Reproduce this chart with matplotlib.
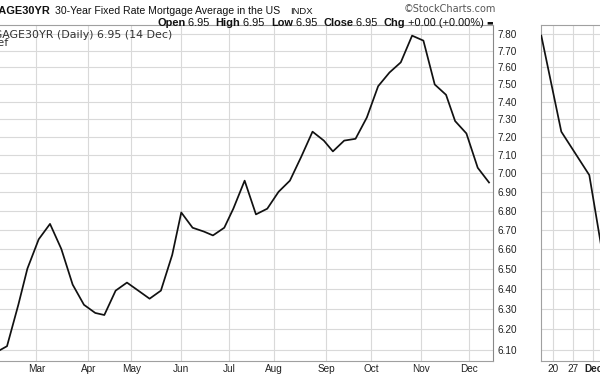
import numpy as np
import matplotlib
matplotlib.use("Agg")
import matplotlib.pyplot as plt
from matplotlib.ticker import FixedLocator, FixedFormatter, NullLocator

# ---------------- data ----------------
dates = ['2023-01-05', '2023-01-12', '2023-01-19', '2023-01-26', '2023-02-02', '2023-02-09',
         '2023-02-16', '2023-02-23', '2023-03-02', '2023-03-09', '2023-03-16', '2023-03-23',
         '2023-03-30', '2023-04-06', '2023-04-13', '2023-04-20', '2023-04-27', '2023-05-04',
         '2023-05-11', '2023-05-18', '2023-05-25', '2023-06-01', '2023-06-08', '2023-06-15',
         '2023-06-22', '2023-06-29', '2023-07-06', '2023-07-13', '2023-07-20', '2023-07-27',
         '2023-08-03', '2023-08-10', '2023-08-17', '2023-08-24', '2023-08-31', '2023-09-07',
         '2023-09-14', '2023-09-21', '2023-09-28', '2023-10-05', '2023-10-12', '2023-10-19',
         '2023-10-26', '2023-11-02', '2023-11-09', '2023-11-16', '2023-11-22', '2023-11-30',
         '2023-12-07', '2023-12-14']
rates = [6.48, 6.33, 6.15, 6.13, 6.09, 6.12,
         6.32, 6.50, 6.65, 6.73, 6.60, 6.42,
         6.32, 6.28, 6.27, 6.39, 6.43, 6.39,
         6.35, 6.39, 6.57, 6.79, 6.71, 6.69,
         6.67, 6.71, 6.81, 6.96, 6.78, 6.81,
         6.90, 6.96, 7.09, 7.23, 7.18, 7.12,
         7.18, 7.19, 7.31, 7.49, 7.57, 7.63,
         7.79, 7.76, 7.50, 7.44, 7.29, 7.22,
         7.03, 6.95]
holidays = ['2023-01-02', '2023-01-16', '2023-02-20', '2023-04-07', '2023-05-29',
            '2023-06-19', '2023-07-04', '2023-09-04', '2023-11-23', '2023-12-25']
month_starts = ['2023-03-01', '2023-04-03', '2023-05-01', '2023-06-01', '2023-07-03',
                '2023-08-01', '2023-09-01', '2023-10-02', '2023-11-01', '2023-12-01']
month_labels = ['Mar', 'Apr', 'May', 'Jun', 'Jul', 'Aug', 'Sep', 'Oct', 'Nov', 'Dec']
ytick_values = [6.10, 6.20, 6.30, 6.40, 6.50, 6.60, 6.70, 6.80, 6.90, 7.00,
                7.10, 7.20, 7.30, 7.40, 7.50, 7.60, 7.70, 7.80]

# right (zoomed) panel
rp_dates = ['2023-11-15', '2023-11-22', '2023-12-01', '2023-12-07']
rp_values = [7.79, 7.23, 6.99, 6.49]
rp_ticks = ['2023-11-20', '2023-11-27', '2023-12-04']
rp_labels = ['20', '27', 'Dec']

# ---------------- layout helpers ----------------
W, H = 600, 376
fig = plt.figure(figsize=(6.0, 3.76), dpi=100)
fig.patch.set_facecolor('white')

def fx(px):
    return px / W

def fy(py):
    return 1 - py / H

TOP, BOT = 24.5, 360.7
REF = '2023-03-02'

def tidx(ds, ref=REF, hol=holidays):
    return np.array([np.busday_count(ref, d, holidays=hol) for d in ds], dtype=float)

X0, S = 38.7, 2.263
L_PX, R_PX = -30, 493.3

def val_at(py):
    return 7.8 * np.exp(-(py - 34.0) / 1287.0)

ylo, yhi = val_at(BOT), val_at(TOP)

GRID = '#d9d9d9'
FRAME = '#a0a0a0'
FONT = ['Liberation Sans', 'DejaVu Sans']

# ---------------- main panel ----------------
ax = fig.add_axes([fx(L_PX), fy(BOT), fx(R_PX - L_PX), (BOT - TOP) / H])
x = tidx(dates)
ax.plot(x, rates, color='#111111', lw=1.25, solid_joinstyle='round', zorder=3)
ax.set_yscale('log')
ax.set_ylim(ylo, yhi)
ax.set_xlim((L_PX - X0) / S, (R_PX - X0) / S)

ax.yaxis.set_major_locator(FixedLocator(ytick_values))
ax.yaxis.set_major_formatter(FixedFormatter(['%.2f' % v for v in ytick_values]))
ax.yaxis.set_minor_locator(NullLocator())
ax.yaxis.tick_right()
ax.tick_params(axis='y', which='major', length=0, pad=3, labelsize=7.2,
               labelcolor='#222222')
mx = tidx(month_starts)
ax.xaxis.set_major_locator(FixedLocator(mx))
ax.xaxis.set_major_formatter(FixedFormatter(month_labels))
ax.tick_params(axis='x', length=0, pad=2.5, labelsize=7.2, labelcolor='#222222')
for lab in ax.get_xticklabels() + ax.get_yticklabels():
    lab.set_family(FONT)
ax.grid(True, color=GRID, lw=0.8)
ax.set_axisbelow(True)
for side in ['left', 'top', 'bottom']:
    ax.spines[side].set_color(FRAME)
    ax.spines[side].set_linewidth(0.8)
ax.spines['right'].set_color('#888888')
ax.spines['right'].set_linestyle((0, (1, 1)))
ax.spines['right'].set_linewidth(0.8)

fig.text(fx(172), fy(35), '$MORTGAGE30YR (Daily) 6.95 (14 Dec)', ha='right', va='center',
         fontsize=7.9, family=['DejaVu Sans'], color='#333333')
fig.text(fx(8.5), fy(43.5), 'Volume undef', ha='right', va='center',
         fontsize=7.9, family=['DejaVu Sans'], color='#333333')

# ---------------- right panel ----------------
RP_L, RP_R = 541, 660
RX0, RS = 553.3, 4.0
ax2 = fig.add_axes([fx(RP_L), fy(BOT), fx(RP_R - RP_L), (BOT - TOP) / H])
rx = tidx(rp_dates, ref='2023-11-20', hol=[])
ax2.plot(rx, rp_values, color='#111111', lw=1.25, solid_joinstyle='round', zorder=3)
ax2.set_yscale('log')
ax2.set_ylim(ylo, yhi)
ax2.set_xlim((RP_L - RX0) / RS, (RP_R - RX0) / RS)
ax2.yaxis.set_major_locator(FixedLocator(ytick_values))
ax2.yaxis.set_minor_locator(NullLocator())
ax2.set_yticklabels([])
ax2.tick_params(axis='y', length=0)
rtx = tidx(rp_ticks, ref='2023-11-20', hol=[])
ax2.xaxis.set_major_locator(FixedLocator(rtx))
ax2.xaxis.set_major_formatter(FixedFormatter(rp_labels))
ax2.tick_params(axis='x', length=0, pad=2.5, labelsize=7.2, labelcolor='#222222')
for i, lab in enumerate(ax2.get_xticklabels()):
    lab.set_family(FONT)
    if rp_labels[i] == 'Dec':
        lab.set_fontweight('bold')
ax2.grid(True, color=GRID, lw=0.8)
ax2.set_axisbelow(True)
for side in ax2.spines:
    ax2.spines[side].set_color(FRAME)
    ax2.spines[side].set_linewidth(0.8)

# ---------------- header texts ----------------
fig.text(fx(51), fy(11), '$MORTGAGE30YR', ha='right', va='center', fontsize=7.9,
         fontweight='bold', family=FONT, color='#111111')
fig.text(fx(55), fy(11), '30-Year Fixed Rate Mortgage Average in the US', ha='left',
         va='center', fontsize=7.6, family=FONT, color='#111111')
fig.text(fx(290), fy(11), 'INDX', ha='left', va='center', fontsize=6.8,
         family=FONT, color='#111111')
fig.text(fx(404), fy(9), '\u00a9StockCharts.com', ha='left', va='center', fontsize=7.0,
         family=['DejaVu Sans'], color='#555555')

fig.canvas.draw()
renderer = fig.canvas.get_renderer()
pieces = [('Open', 'bold', 7.9), (' 6.95  ', 'normal', 7.9), ('High', 'bold', 7.9),
          (' 6.95  ', 'normal', 7.9), ('Low', 'bold', 7.9), (' 6.95  ', 'normal', 7.9),
          ('Close', 'bold', 7.9), (' 6.95  ', 'normal', 7.9), ('Chg', 'bold', 7.9),
          (' +0.00 (+0.00%) ', 'normal', 7.9), ('\u25ac', 'normal', 5.0)]
cur = 157.0
for txt, wt, fs in pieces:
    fam = ['DejaVu Sans'] if txt == '\u25ac' else FONT
    t = fig.text(fx(cur), fy(22.7), txt, ha='left', va='center', fontsize=fs,
                 fontweight=wt, family=fam, color='#111111')
    bb = t.get_window_extent(renderer)
    cur += bb.width

fig.savefig('out.png', dpi=100, facecolor='white')
